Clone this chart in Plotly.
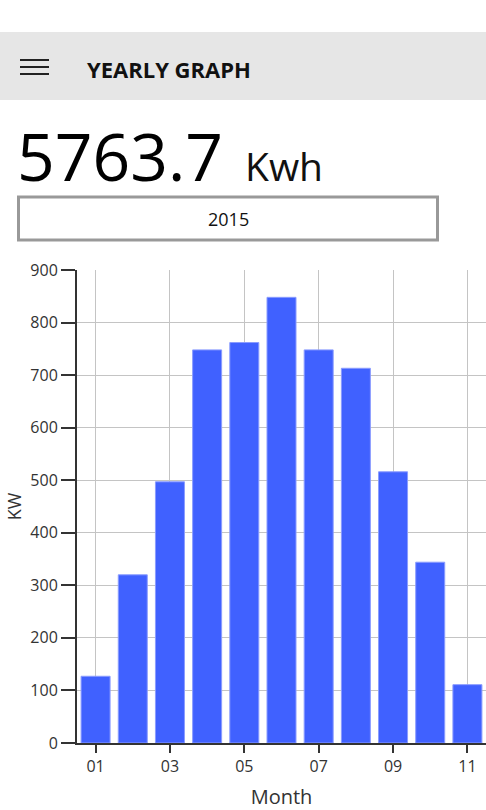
import plotly.graph_objects as go

# ---- data ----
months = ["01", "02", "03", "04", "05", "06", "07", "08", "09", "10", "11"]
kw_values = [127, 320, 497, 748, 762, 848, 748, 713, 516, 344, 111]
tick_months = ["01", "03", "05", "07", "09", "11"]
y_ticks = [0, 100, 200, 300, 400, 500, 600, 700, 800, 900]
total_text = "5763.7"
unit_text = "Kwh"
year_text = "2015"
page_title = "YEARLY GRAPH"

W, H = 486, 810
L, R, T, B = 77, 0, 270, 67
PW, PH = W - L - R, H - T - B


def px(x):
    return (x - L) / PW


def py(y):
    return (H - B - y) / PH


FONT = "Open Sans"

fig = go.Figure()
fig.add_trace(go.Bar(
    x=months, y=kw_values,
    marker=dict(color="#4061ff", line=dict(color="#8a9cff", width=1)),
    width=0.78,
    hoverinfo="x+y",
))

shapes = []
# header bar
shapes.append(dict(type="rect", xref="paper", yref="paper",
                   x0=px(0), x1=px(W), y0=py(100), y1=py(32),
                   fillcolor="#e6e6e6", line=dict(width=0), layer="below"))
# hamburger
for yy in (60, 67, 74):
    shapes.append(dict(type="line", xref="paper", yref="paper",
                       x0=px(20), x1=px(49), y0=py(yy), y1=py(yy),
                       line=dict(color="#222222", width=2)))
# year box
shapes.append(dict(type="rect", xref="paper", yref="paper",
                   x0=px(18.5), x1=px(437.5), y0=py(240), y1=py(197),
                   fillcolor="white", line=dict(color="#999999", width=3)))

annotations = [
    dict(text=page_title, x=px(85), y=py(69), xref="paper", yref="paper",
         xanchor="left", yanchor="middle", showarrow=False,
         font=dict(family=FONT, size=22, color="#111111", weight="bold")),
    dict(text=total_text, x=px(15), y=py(155), xref="paper", yref="paper",
         xanchor="left", yanchor="middle", showarrow=False,
         font=dict(family=FONT, size=66, color="#000000")),
    dict(text=unit_text, x=px(243), y=py(166), xref="paper", yref="paper",
         xanchor="left", yanchor="middle", showarrow=False,
         font=dict(family=FONT, size=39, color="#111111")),
    dict(text=year_text, x=px(228), y=py(219), xref="paper", yref="paper",
         xanchor="center", yanchor="middle", showarrow=False,
         font=dict(family=FONT, size=18, color="#111111")),
]

fig.update_layout(
    width=W, height=H,
    margin=dict(l=L, r=R, t=T, b=B, pad=0),
    paper_bgcolor="white", plot_bgcolor="white",
    showlegend=False,
    shapes=shapes, annotations=annotations,
    font=dict(family=FONT, color="#333333"),
)
fig.update_xaxes(
    type="category", range=[-0.5, 10.5],
    tickmode="array", tickvals=tick_months, ticktext=tick_months,
    showgrid=True, gridcolor="#c4c4c4", gridwidth=1,
    showline=True, linecolor="#333333", linewidth=2,
    ticks="outside", ticklen=8, tickwidth=2, tickcolor="#333333",
    tickfont=dict(size=16, color="#333333"),
    title=dict(text="Month", font=dict(size=20, color="#333333"), standoff=14),
)
fig.update_yaxes(
    range=[0, 900], tickmode="array", tickvals=y_ticks,
    showgrid=True, gridcolor="#c4c4c4", gridwidth=1, zeroline=False,
    showline=True, linecolor="#333333", linewidth=2,
    ticks="outside", ticklen=14, tickwidth=2, tickcolor="#333333",
    tickfont=dict(size=16, color="#333333"),
    title=dict(text="KW", font=dict(size=18, color="#333333"), standoff=4),
)

fig.write_html(
    "out.html",
    config={"displayModeBar": False},
    post_script="document.body.style.margin='0';document.body.style.overflow='hidden';",
)
